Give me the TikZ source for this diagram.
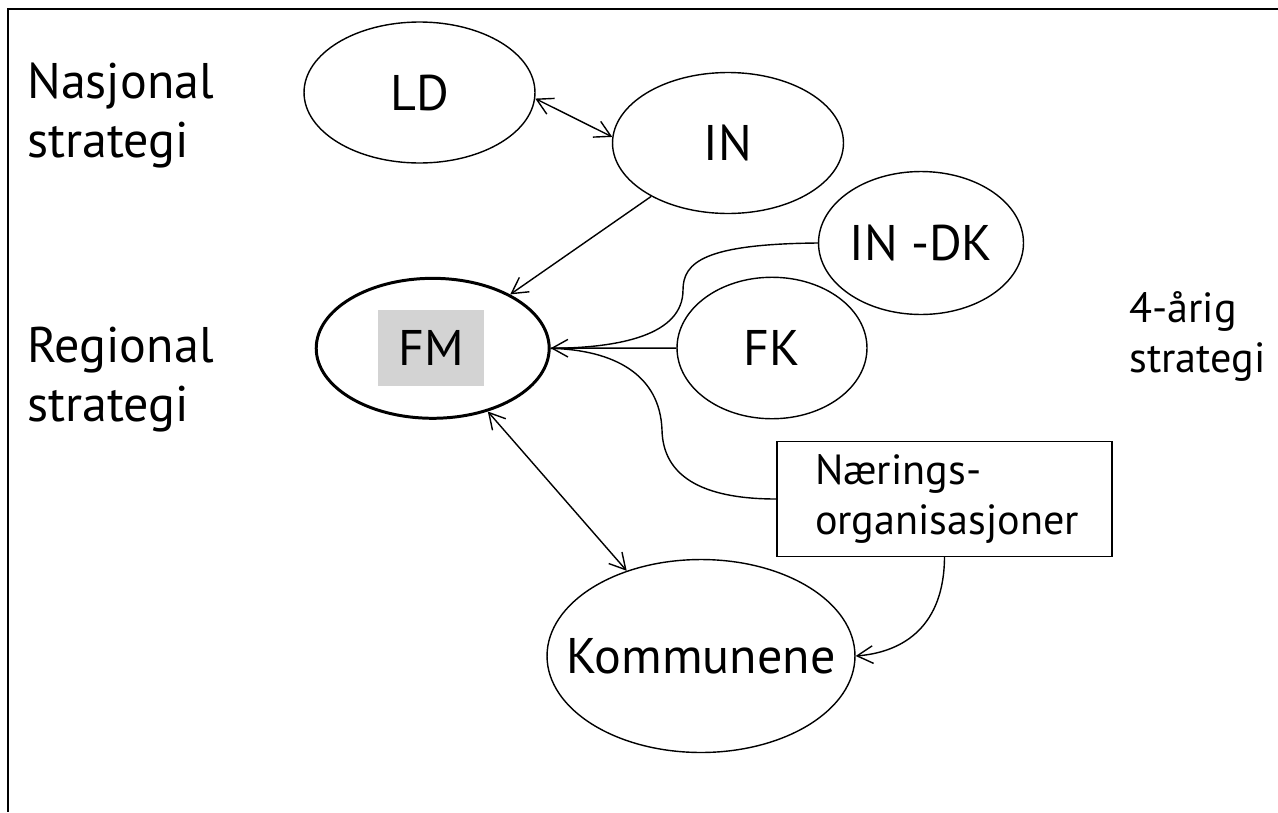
\documentclass[tikz,border=0pt]{standalone}
\usepackage{fontspec}
\setmainfont{PT Sans}
\usetikzlibrary{shapes.geometric,arrows.meta}
\definecolor{tagrey}{rgb}{0.827,0.827,0.827}

\begin{document}
\begin{tikzpicture}[x=0.02cm,y=-0.02cm,
  >={Straight Barb[length=9pt,width=10pt]},
  link/.style={line width=0.8pt},
  unit/.style={ellipse,draw,line width=0.8pt,inner sep=0pt,minimum width=4.62cm,minimum height=2.82cm,font=\fontsize{28.5}{33.5}\selectfont},
  lvl/.style={align=left,inner sep=0pt,anchor=base west,font=\fontsize{28.5}{33.5}\selectfont},
  note/.style={align=left,inner sep=0pt,anchor=base west,font=\fontsize{24}{28.3}\selectfont}]
\useasboundingbox (0,0) rectangle (1278,812);
\draw[line width=1.2pt] (1278,9) -- (8,9) -- (8,812);

% levels
\node[lvl] (nasj) at (27,157) {Nasjonal\\strategi};
\node[lvl] (regi) at (27,421) {Regional\\strategi};
\node[note] (fire) at (1129,372) {4-årig\\strategi};

% actors
\node[unit] (ld) at (419.5,92.5) {LD};
\node[unit] (in) at (728,143) {IN};
\node[unit,minimum width=4.1cm,minimum height=2.86cm] (indk) at (921,243) {IN -DK};
\node[unit,minimum width=3.8cm,minimum height=2.83cm] (fk) at (772,348) {FK};
\node[unit,line width=1.7pt,minimum width=4.66cm,minimum height=2.8cm] (fm) at (432.7,348.3) {};
\node[fill=tagrey,minimum width=2.12cm,minimum height=1.52cm,font=\fontsize{28.5}{33.5}\selectfont] (fmtxt) at (431,347.5) {FM};
\node[unit,inner xsep=-0.7cm,minimum width=6.16cm,minimum height=3.86cm] (kom) at (701,656) {Kommunene};
\node[draw,line width=0.8pt,minimum width=6.7cm,minimum height=2.3cm,text width=5.18cm,inner xsep=0.76cm,align=left,font=\fontsize{24}{28.3}\selectfont] (nor) at (944.5,499) {Nærings-\\organisasjoner};

% links
\draw[link,<->] (ld.-3) -- (in.177);
\draw[link,->] (in) -- (fm);
\draw[link,->] (fk) -- (fm);
\draw[link] (indk.west) .. controls (705,244) and (683,262) .. (683,290) .. controls (683,335) and (620,348) .. (fm.east);
\draw[link] (nor.west) .. controls (700,499) and (663,475) .. (662,430) .. controls (660,375) and (615,350) .. (fm.east);
\draw[link,<->] (fm) -- (kom);
\draw[link,->] (nor.south) .. controls (944,625) and (905,652) .. (kom.east);
\end{tikzpicture}
\end{document}
